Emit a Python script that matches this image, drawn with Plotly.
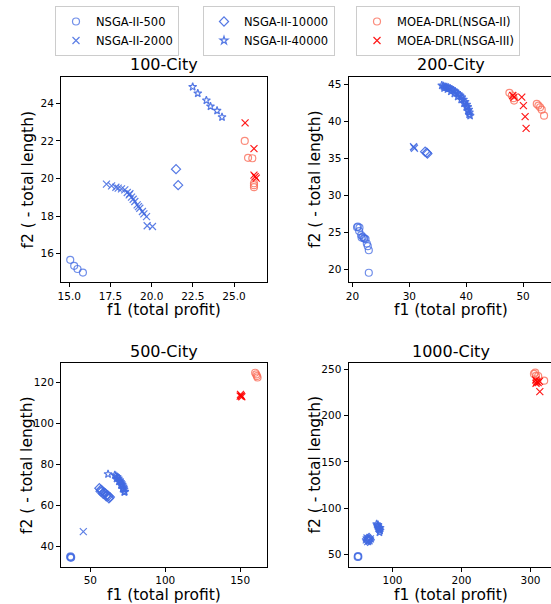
import plotly.graph_objects as go

W, H = 551, 604

# ---------------- 100-City ----------------
c100_n500_x = [15.06, 15.30, 15.50, 15.83]
c100_n500_y = [15.68, 15.36, 15.19, 15.00]
c100_n2000_x = [17.26, 17.57, 17.83, 17.97, 18.17, 18.37, 18.52, 18.64, 18.68, 18.78,
                18.88, 18.98, 19.12, 19.20, 19.28, 19.44, 19.53, 19.69, 19.73, 20.05]
c100_n2000_y = [19.70, 19.61, 19.54, 19.49, 19.45, 19.40, 19.26, 19.13, 19.19, 19.01,
                18.90, 18.78, 18.60, 18.51, 18.42, 18.25, 18.12, 17.98, 17.49, 17.45]
c100_n10000_x = [21.48, 21.61]
c100_n10000_y = [20.50, 19.65]
c100_n40000_x = [22.49, 22.80, 23.32, 23.57, 23.97, 24.27]
c100_n40000_y = [24.88, 24.53, 24.16, 23.84, 23.61, 23.27]
c100_drl2_x = [25.65, 25.85, 26.11, 26.21, 26.21, 26.21]
c100_drl2_y = [22.00, 21.10, 21.08, 19.75, 19.65, 19.54]
c100_drl3_x = [25.67, 26.21, 26.21, 26.35, 26.28]
c100_drl3_y = [22.96, 21.59, 20.18, 20.02, 20.10]

# ---------------- 200-City ----------------
c200_n500_x = [20.94, 21.23, 21.17, 21.52, 21.82, 22.11, 22.52, 22.69, 22.87, 22.87, 20.80, 21.60, 22.30, 22.00]
c200_n500_y = [25.77, 25.64, 25.18, 24.64, 24.41, 24.18, 23.50, 23.14, 22.59, 19.55, 25.70, 24.30, 24.10, 24.20]
c200_n2000_x = [30.72, 30.90, 30.80]
c200_n2000_y = [36.59, 36.36, 36.50]
c200_n10000_x = [32.77, 33.06, 33.18]
c200_n10000_y = [35.91, 35.77, 35.64]
c200_n40000_x = [35.70, 35.99, 36.29, 36.58, 36.87, 37.16, 37.46, 37.75, 38.04, 38.34,
                 38.63, 38.92, 39.21, 39.51, 39.80, 40.09, 40.27, 40.44, 40.56, 40.68,
                 36.10, 36.70, 37.30, 37.90, 38.50, 39.10, 39.60, 40.00, 40.30, 40.50]
c200_n40000_y = [44.86, 44.77, 44.68, 44.64, 44.55, 44.45, 44.32, 44.18, 44.05, 43.86,
                 43.68, 43.50, 43.27, 42.95, 42.64, 42.27, 41.95, 41.59, 41.23, 40.77,
                 44.50, 44.35, 44.05, 43.75, 43.35, 42.95, 42.45, 41.95, 41.40, 40.95]
c200_drl2_x = [47.59, 48.00, 48.30, 48.41, 52.40, 52.69, 52.98, 53.27, 53.68]
c200_drl2_y = [43.86, 43.50, 43.14, 42.82, 42.36, 42.14, 41.91, 41.59, 40.77]
c200_drl3_x = [48.18, 48.41, 49.76, 50.05, 50.35, 50.52]
c200_drl3_y = [43.50, 43.27, 43.27, 42.14, 40.64, 39.05]

# ---------------- 500-City ----------------
c500_n500_x = [36.5, 37.0, 36.8, 37.2]
c500_n500_y = [35.0, 34.6, 35.3, 34.9]
c500_n2000_x = [45.3]
c500_n2000_y = [47.4]
c500_n10000_x = [56.0, 57.0, 58.0, 59.0, 60.0, 61.0, 62.0, 63.0, 56.8, 58.6, 60.6, 62.4]
c500_n10000_y = [68.5, 67.8, 67.2, 66.5, 66.0, 65.3, 64.7, 64.2, 67.0, 65.8, 64.6, 63.6]
c500_n40000_x = [61.8, 66.3, 67.0, 67.9, 68.7, 69.6, 70.2, 70.8, 71.3, 71.9, 72.2, 72.5, 73.0,
                 67.5, 69.0, 70.4, 71.5, 72.6]
c500_n40000_y = [75.4, 74.9, 74.5, 74.0, 73.3, 72.4, 71.6, 71.0, 70.2, 69.4, 68.6, 67.9, 66.8,
                 73.2, 71.8, 70.0, 68.2, 66.6]
c500_drl2_x = [160.0, 160.7, 161.2, 161.6]
c500_drl2_y = [124.7, 123.9, 123.1, 122.4]
c500_drl3_x = [150.2, 150.7, 151.1, 150.0]
c500_drl3_y = [114.2, 113.5, 113.0, 113.3]

# ---------------- 1000-City ----------------
c1000_n500_x = [50.0, 49.5, 50.5]
c1000_n500_y = [48.5, 47.5, 47.8]
c1000_n2000_x = [62.0, 64.0, 66.0, 68.0, 63.0]
c1000_n2000_y = [66.0, 64.0, 65.0, 67.0, 68.0]
c1000_n10000_x = [63.0, 65.0, 66.0, 64.0, 67.0]
c1000_n10000_y = [67.0, 66.5, 68.0, 65.0, 66.0]
c1000_n40000_x = [77.0, 78.0, 79.0, 80.0, 81.0, 82.0, 81.0, 80.0, 79.0, 82.0]
c1000_n40000_y = [83.0, 81.0, 80.0, 79.0, 77.0, 76.0, 74.0, 78.0, 82.0, 79.0]
c1000_drl2_x = [306.8, 305.0, 308.0, 311.1, 319.8, 309.0]
c1000_drl2_y = [246.4, 245.0, 243.0, 242.8, 237.8, 237.0]
c1000_drl3_x = [307.7, 309.0, 311.1, 313.0, 313.5, 308.0]
c1000_drl3_y = [238.5, 236.5, 235.6, 237.0, 225.9, 235.0]

series_names = ["NSGA-II-500", "NSGA-II-2000", "NSGA-II-10000", "NSGA-II-40000",
                "MOEA-DRL(NSGA-II)", "MOEA-DRL(NSGA-III)"]
panel_titles = ["100-City", "200-City", "500-City", "1000-City"]

styles = {
    "NSGA-II-500": dict(symbol="circle-open", size=7, color="rgba(65,105,225,0.75)", legend="legend"),
    "NSGA-II-2000": dict(symbol="x-thin-open", size=7, color="rgba(65,105,225,0.85)", legend="legend"),
    "NSGA-II-10000": dict(symbol="diamond-open", size=7, color="rgba(65,105,225,0.9)", legend="legend2"),
    "NSGA-II-40000": dict(symbol="star-open", size=6, color="rgba(65,105,225,0.9)", legend="legend2"),
    "MOEA-DRL(NSGA-II)": dict(symbol="circle-open", size=7, color="rgba(250,110,90,0.8)", legend="legend3"),
    "MOEA-DRL(NSGA-III)": dict(symbol="x-thin-open", size=7, color="rgba(255,0,0,0.9)", legend="legend3"),
}

panels = [
    [(c100_n500_x, c100_n500_y), (c100_n2000_x, c100_n2000_y), (c100_n10000_x, c100_n10000_y),
     (c100_n40000_x, c100_n40000_y), (c100_drl2_x, c100_drl2_y), (c100_drl3_x, c100_drl3_y)],
    [(c200_n500_x, c200_n500_y), (c200_n2000_x, c200_n2000_y), (c200_n10000_x, c200_n10000_y),
     (c200_n40000_x, c200_n40000_y), (c200_drl2_x, c200_drl2_y), (c200_drl3_x, c200_drl3_y)],
    [(c500_n500_x, c500_n500_y), (c500_n2000_x, c500_n2000_y), (c500_n10000_x, c500_n10000_y),
     (c500_n40000_x, c500_n40000_y), (c500_drl2_x, c500_drl2_y), (c500_drl3_x, c500_drl3_y)],
    [(c1000_n500_x, c1000_n500_y), (c1000_n2000_x, c1000_n2000_y), (c1000_n10000_x, c1000_n10000_y),
     (c1000_n40000_x, c1000_n40000_y), (c1000_drl2_x, c1000_drl2_y), (c1000_drl3_x, c1000_drl3_y)],
]

fig = go.Figure()
for pi, pdata in enumerate(panels):
    ax = "" if pi == 0 else str(pi + 1)
    for si, (xs, ys) in enumerate(pdata):
        name = series_names[si]
        st = styles[name]
        fig.add_trace(go.Scatter(
            x=xs, y=ys, mode="markers", name=name,
            xaxis="x" + ax, yaxis="y" + ax,
            legend=st["legend"], showlegend=(pi == 0),
            marker=dict(symbol=st["symbol"], size=st["size"], color=st["color"],
                        line=dict(width=1.2, color=st["color"])),
        ))

# layout geometry (pixels)
LX = (61, 267)
RX = (348.5, 551)
TY = (77, 282)
BY = (363.3, 566.7)

def xd(a, b):
    return [a / W, min(b / W, 1.0)]

def yd(a, b):
    return [1 - b / H, 1 - a / H]

tick_font = dict(family="DejaVu Sans", size=10.5, color="black")
common = dict(showline=True, linecolor="black", linewidth=1, mirror=True, ticks="outside",
              ticklen=4, tickcolor="black", showgrid=False, zeroline=False,
              tickfont=tick_font, automargin=False)

fig.update_layout(
    width=W, height=H, margin=dict(l=0, r=0, t=0, b=0),
    plot_bgcolor="white", paper_bgcolor="white",
    font=dict(family="DejaVu Sans", color="black"),
    xaxis=dict(domain=xd(*LX), anchor="y", range=[14.5, 27.0], tick0=15, dtick=2.5, tickformat=".1f", **common),
    yaxis=dict(domain=yd(*TY), anchor="x", range=[14.5, 25.4], dtick=2, **common),
    xaxis2=dict(domain=xd(*RX), anchor="y2", range=[19.3, 54.9], dtick=10, **common),
    yaxis2=dict(domain=yd(*TY), anchor="x2", range=[18.3, 46.0], dtick=5, **common),
    xaxis3=dict(domain=xd(*LX), anchor="y3", range=[30.4, 167.9], dtick=50, **common),
    yaxis3=dict(domain=yd(*BY), anchor="x3", range=[30.3, 129.3], dtick=20, **common),
    xaxis4=dict(domain=xd(*RX), anchor="y4", range=[36.2, 329.7], dtick=100, **common),
    yaxis4=dict(domain=yd(*BY), anchor="x4", range=[37.0, 256.5], dtick=50, **common),
)

leg_common = dict(bgcolor="white", bordercolor="#cccccc", borderwidth=1,
                  font=dict(family="DejaVu Sans", size=11.5, color="black"),
                  xanchor="left", yanchor="top", tracegroupgap=0, itemwidth=30)
leg_top = 1 - 6 / H
fig.update_layout(
    legend=dict(x=55 / W, y=leg_top, **leg_common),
    legend2=dict(x=203 / W, y=leg_top, **leg_common),
    legend3=dict(x=356 / W, y=leg_top, **leg_common),
)

annos = []
title_font = dict(family="DejaVu Sans", size=16, color="black")
label_font = dict(family="DejaVu Sans", size=15.5, color="black")
centers_x = [(LX[0] + LX[1]) / 2, (RX[0] + 554) / 2, (LX[0] + LX[1]) / 2, (RX[0] + 554) / 2]
tops = [TY[0], TY[0], BY[0], BY[0]]
bottoms = [TY[1], TY[1], BY[1], BY[1]]
lefts = [LX[0], RX[0], LX[0], RX[0]]
for i in range(4):
    annos.append(dict(text=panel_titles[i], x=centers_x[i] / W, y=1 - (tops[i] - 0.5) / H,
                      xref="paper", yref="paper", xanchor="center", yanchor="bottom",
                      showarrow=False, font=title_font))
    annos.append(dict(text="f1 (total profit)", x=centers_x[i] / W, y=1 - (bottoms[i] + 28) / H,
                      xref="paper", yref="paper", xanchor="center", yanchor="middle",
                      showarrow=False, font=label_font))
    annos.append(dict(text="f2 ( - total length)", x=(lefts[i] - 34) / W,
                      y=1 - (tops[i] + bottoms[i]) / 2 / H, textangle=-90,
                      xref="paper", yref="paper", xanchor="center", yanchor="middle",
                      showarrow=False, font=label_font))
fig.update_layout(annotations=annos)

fig.write_html("out.html")
